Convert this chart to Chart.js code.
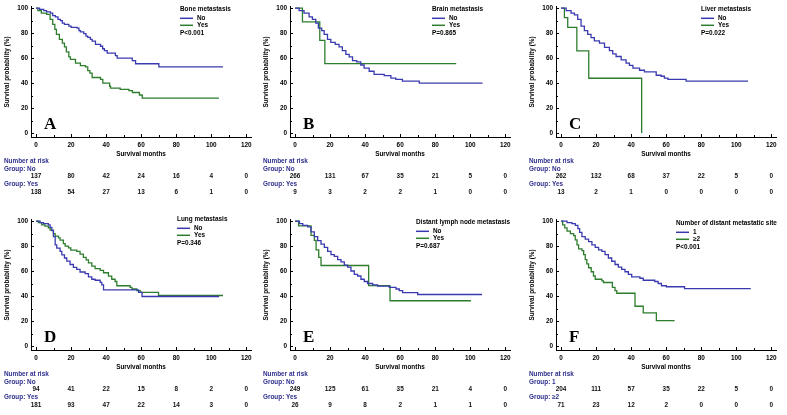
<!DOCTYPE html>
<html>
<head>
<meta charset="utf-8">
<script src="https://cdn.jsdelivr.net/npm/chart.js@4.4.1/dist/chart.umd.min.js"></script>
<style>
  html, body { margin: 0; padding: 0; background: #fff; width: 787px; height: 415px; overflow: hidden; }
  .panel { position: absolute; width: 262px; height: 207px; }
  .panel canvas { display: block; }
</style>
</head>
<body>
<div class="panel" style="left:0px;top:0px"><canvas id="cA" width="262" height="207"></canvas></div>
<div class="panel" style="left:259px;top:0px"><canvas id="cB" width="262" height="207"></canvas></div>
<div class="panel" style="left:525px;top:0px"><canvas id="cC" width="262" height="207"></canvas></div>
<div class="panel" style="left:0px;top:213px"><canvas id="cD" width="262" height="207"></canvas></div>
<div class="panel" style="left:259px;top:213px"><canvas id="cE" width="262" height="207"></canvas></div>
<div class="panel" style="left:525px;top:213px"><canvas id="cF" width="262" height="207"></canvas></div>
<script>
// ticks
const monthTicks = [0, 20, 40, 60, 80, 100, 120]
const probTicks = [0, 20, 40, 60, 80, 100]
const riskMonths = [0, 20, 40, 60, 80, 100, 120]

// KM curves: [months, survival %]
const boneNo = [[0,100],[2,99],[4.4,98],[6,97],[8.2,96],[9.5,94],[11,93],[12.5,91],[13.9,90],[15,88],[16.2,87],[18.7,85.5],[20,84.5],[23.4,84],[24.5,82],[25.3,81],[27.2,79.5],[28.5,77.5],[29.5,76.5],[31,75],[32,73.5],[33.9,71],[36.8,69.5],[38,67.5],[39,66],[40.6,64],[45.3,62],[46.3,60],[54.9,58],[56.8,55.5],[70.1,53],[106.7,53]]
const boneYes = [[0,100],[1,98],[3,96],[6,95],[8,91],[9.5,87],[10.7,83],[11.6,79],[13.3,75],[15,72],[16.2,69],[17.3,65],[18.7,61],[19.6,59],[22.5,56],[25.3,54],[28.2,53],[29.5,50],[30.7,48],[32,44.5],[36.8,43],[38.1,40],[42,37.5],[42.5,36],[48,35],[53,34],[55,32.5],[59,30.5],[60.6,28],[104.4,28]]
const brainNo = [[0,100],[2.3,98],[5.1,96],[8,93],[9.9,91],[11.8,88],[13.3,84],[15.2,82],[16.6,79],[18.5,75],[20.4,72.5],[22.9,71],[25.1,69],[27,66],[29,63],[30.9,61],[32.8,58],[35.2,57],[37.5,54.5],[39.4,52],[42.3,49.5],[45.1,47],[50.9,46],[54.7,44],[57.5,43],[61.3,41.6],[70.9,40],[107,40]]
const brainYes = [[0,100],[4.2,88.9],[14.1,74.1],[17,55.6],[92,55.6]]
const liverNo = [[0,100],[2.9,98],[5.7,96],[7.6,94.5],[9.5,91],[11.4,85.6],[13.3,82],[15.2,79],[17.1,76.4],[19,73.8],[21.9,72],[24.8,68.6],[27.6,66],[29.5,63.4],[31.4,61.3],[34.3,58.6],[37.1,56],[39,54.2],[41,52],[44.8,50.3],[47.6,49],[54.3,46.3],[57.1,45.5],[59,44],[61,43],[71.4,41.6],[106.7,41.6]]
const liverYes = [[0,100],[1.9,92.3],[3.8,84.6],[9,65.8],[15.8,43.9],[46,0]]
const lungNo = [[0,100],[2.3,98.7],[4.2,98],[7,97],[8,95],[9,92.4],[9.9,87.5],[10.9,81],[11.8,78.3],[13.7,75.7],[14.7,73],[16.2,70.5],[17.5,68],[19.4,65.3],[21.3,63],[23.2,61.4],[25.1,59.3],[28,58],[29.9,55.4],[31.8,53.5],[33.7,52.7],[36.6,51],[37.5,49],[38.5,45],[58.5,43],[60.5,39.7],[104.5,39.7]]
const lungYes = [[0,100],[1.3,98.7],[3.2,97],[5.1,96],[7,94.5],[8,92.7],[9.9,90],[10.9,88],[12.8,86.6],[13.7,84.8],[15.6,82],[16.6,80],[18.5,78.6],[19.8,76.8],[23.2,75.7],[25.1,73.6],[27,71],[28.6,69],[29.9,66.6],[31.8,64],[33.7,62],[36.6,60.6],[38.5,58.7],[41.3,56],[43.2,53.5],[45.1,51.7],[46.1,48.3],[53.7,47],[54.7,45.7],[57.5,44.4],[59.4,43],[69.9,40.5],[106.7,40.5]]
const lymphNo = [[0,100],[2.5,97.9],[4.4,96.6],[7.2,95.3],[9.1,91.4],[11,87.5],[12.9,84.3],[14.8,81.5],[16.7,78.9],[18.6,75.7],[20.5,73.1],[22.4,71.8],[24.3,69.2],[26.2,67.4],[28.1,64.8],[30,63.2],[31.9,60.1],[33.8,57.4],[35.7,56.1],[37.6,53.5],[39.5,51.7],[41.4,50.1],[44.3,49],[47.1,48],[53.8,47],[57.6,45.7],[59.5,44.4],[61.4,42.8],[70,41.3],[106.7,41.3]]
const lymphYes = [[0,100],[2,96.2],[9.1,88.5],[11,84.6],[12,76.9],[13.5,71],[14.8,64.5],[42,48.4],[54.2,36.3],[100.4,36.3]]
const sitesOne = [[0,100],[3.4,98.7],[6.2,97.9],[8.1,96.6],[9.6,94],[10.6,90.9],[11.9,87.5],[13.8,85.6],[15.7,83.6],[17.6,81],[19.5,78.9],[21.4,77],[23.3,75.7],[25.1,73.1],[27,70.5],[28.9,67.9],[30.8,65.3],[32.7,63.2],[34.6,61.4],[36.5,59.5],[38.4,57.4],[40.3,55.4],[45,54.3],[46.9,52.7],[53.5,51.7],[55.4,50.1],[57.3,48.3],[60.1,47.5],[70.5,46],[108.3,46]]
const sitesTwo = [[0,100],[0.9,97],[2.1,94.5],[3.4,91.9],[5.3,90],[7.2,88.3],[8.1,84.9],[9.1,81],[10,77.8],[11.9,76.3],[12.9,73.1],[13.8,69.2],[14.7,65.8],[15.7,62.7],[17.2,59.5],[18.5,56.1],[19.5,53.5],[23.3,52.2],[24.2,50.9],[29.3,47],[30.8,44.4],[31.8,42.3],[42.2,31.9],[46.9,26.6],[54.4,20.4],[64.8,20.4]]

// number at risk
const boneNoRisk = [137, 80, 42, 24, 16, 4, 0]
const boneYesRisk = [138, 54, 27, 13, 6, 1, 0]
const brainNoRisk = [266, 131, 67, 35, 21, 5, 0]
const brainYesRisk = [9, 3, 2, 2, 1, 0, 0]
const liverNoRisk = [262, 132, 68, 37, 22, 5, 0]
const liverYesRisk = [13, 2, 1, 0, 0, 0, 0]
const lungNoRisk = [94, 41, 22, 15, 8, 2, 0]
const lungYesRisk = [181, 93, 47, 22, 14, 3, 0]
const lymphNoRisk = [249, 125, 61, 35, 21, 4, 0]
const lymphYesRisk = [26, 9, 8, 2, 1, 1, 0]
const sitesOneRisk = [204, 111, 57, 35, 22, 5, 0]
const sitesTwoRisk = [71, 23, 12, 2, 0, 0, 0]

const BLUE = '#3a3ab0'
const GREEN = '#2d7d2d'
const NAVY = '#2e2e8c'
const FONT = '"Liberation Sans", Arial, sans-serif'
const FS = 6.4

const panels = [
  { id: 'A', title: 'Bone metastasis', groups: ['No', 'Yes'], p: 'P<0.001', curves: [boneNo, boneYes], risk: [boneNoRisk, boneYesRisk], lx: 180, ly: 9 },
  { id: 'B', title: 'Brain metastasis', groups: ['No', 'Yes'], p: 'P=0.865', curves: [brainNo, brainYes], risk: [brainNoRisk, brainYesRisk], lx: 173, ly: 9 },
  { id: 'C', title: 'Liver metastasis', groups: ['No', 'Yes'], p: 'P=0.022', curves: [liverNo, liverYes], risk: [liverNoRisk, liverYesRisk], lx: 176, ly: 9 },
  { id: 'D', title: 'Lung metastasis', groups: ['No', 'Yes'], p: 'P=0.346', curves: [lungNo, lungYes], risk: [lungNoRisk, lungYesRisk], lx: 177, ly: 6 },
  { id: 'E', title: 'Distant lymph node metastasis', groups: ['No', 'Yes'], p: 'P=0.687', curves: [lymphNo, lymphYes], risk: [lymphNoRisk, lymphYesRisk], lx: 157, ly: 9 },
  { id: 'F', title: 'Number of distant metastatic site', groups: ['1', '≥2'], p: 'P<0.001', curves: [sitesOne, sitesTwo], risk: [sitesOneRisk, sitesTwoRisk], lx: 151, ly: 10 },
]

// inward tick marks, legend, letter and the at-risk table
const kmExtras = {
  id: 'kmExtras',
  afterDraw(chart, args, opts) {
    const { ctx, chartArea, scales: { x, y } } = chart
    const pnl = opts.panel
    ctx.save()
    // ticks (into the plot, minor every 10)
    ctx.strokeStyle = '#000'
    ctx.lineWidth = 1
    ctx.beginPath()
    for (let m = 0; m <= 120; m += 10) {
      const px = Math.round(x.getPixelForValue(m)) + 0.5
      const len = m % 20 === 0 ? 3 : 2
      ctx.moveTo(px, chartArea.bottom)
      ctx.lineTo(px, chartArea.bottom - len)
    }
    for (let v = 0; v <= 100; v += 10) {
      const py = Math.round(y.getPixelForValue(v)) + 0.5
      const len = v % 20 === 0 ? 3 : 2
      ctx.moveTo(chartArea.left, py)
      ctx.lineTo(chartArea.left + len, py)
    }
    ctx.stroke()

    // legend
    ctx.font = `bold ${FS}px ${FONT}`
    ctx.textBaseline = 'middle'
    ctx.textAlign = 'left'
    ctx.fillStyle = '#000'
    ctx.fillText(pnl.title, pnl.lx, pnl.ly)
    const rows = [pnl.ly + 9.3, pnl.ly + 16.3]
    ;[BLUE, GREEN].forEach((c, i) => {
      ctx.strokeStyle = c
      ctx.lineWidth = 1.5
      ctx.beginPath()
      ctx.moveTo(pnl.lx, rows[i])
      ctx.lineTo(pnl.lx + 13, rows[i])
      ctx.stroke()
      ctx.fillText(pnl.groups[i], pnl.lx + 17, rows[i])
    })
    ctx.fillText(pnl.p, pnl.lx, pnl.ly + 24.7)

    // panel letter
    ctx.font = 'bold 17px "Liberation Serif", "Times New Roman", serif'
    ctx.textBaseline = 'alphabetic'
    ctx.fillText(pnl.id, 44, 128.5)

    // number at risk
    ctx.font = `bold ${FS}px ${FONT}`
    ctx.textBaseline = 'middle'
    ctx.fillStyle = NAVY
    ctx.fillText('Number at risk', 4, 161)
    ctx.fillText('Group: ' + pnl.groups[0], 4, 169)
    ctx.fillText('Group: ' + pnl.groups[1], 4, 184)
    ctx.fillStyle = '#111'
    ctx.textAlign = 'center'
    pnl.risk.forEach((row, i) => {
      const ry = i === 0 ? 176.5 : 192
      row.forEach((n, j) => {
        ctx.fillText(String(n), x.getPixelForValue(riskMonths[j]), ry)
      })
    })
    ctx.restore()
  }
}

panels.forEach(pnl => {
  const el = document.getElementById('c' + pnl.id)
  new Chart(el, {
    type: 'line',
    data: {
      datasets: pnl.curves.map((curve, i) => ({
        label: pnl.groups[i],
        data: curve.map(([t, s]) => ({ x: t, y: s })),
        borderColor: i === 0 ? BLUE : GREEN,
        backgroundColor: i === 0 ? BLUE : GREEN,
        borderWidth: 1.3,
        stepped: true, // KM step
        pointRadius: 0,
        fill: false,
      }))
    },
    options: {
      responsive: false,
      animation: false,
      devicePixelRatio: 1,
      layout: { padding: { top: 5, right: 11, bottom: 0, left: 0 } },
      plugins: {
        legend: { display: false },
        tooltip: { enabled: false },
        kmExtras: { panel: pnl },
      },
      scales: {
        x: {
          type: 'linear',
          min: -2.9,
          max: 122.7,
          afterBuildTicks: s => { s.ticks = monthTicks.map(v => ({ value: v })) },
          afterFit: s => { s.height = 70 },
          grid: { display: false, drawTicks: false },
          border: { display: true, color: '#000', width: 1 },
          ticks: { color: '#000', padding: 4, maxRotation: 0, font: { family: FONT, size: FS, weight: 'bold' } },
          title: { display: true, text: 'Survival months', color: '#000', padding: { top: 0, bottom: 48.6 }, font: { family: FONT, size: FS, weight: 'bold' } },
        },
        y: {
          type: 'linear',
          min: -3.1,
          max: 101,
          afterBuildTicks: s => { s.ticks = probTicks.map(v => ({ value: v })) },
          afterFit: s => { s.width = 31 },
          grid: { display: false, drawTicks: false },
          border: { display: true, color: '#000', width: 1 },
          ticks: { color: '#000', padding: 3, font: { family: FONT, size: FS, weight: 'bold' } },
          title: { display: true, text: 'Survival probability (%)', color: '#000', padding: { top: 3, bottom: 0 }, font: { family: FONT, size: FS, weight: 'bold' } },
        }
      }
    },
    plugins: [kmExtras]
  })
})
</script>
</body>
</html>
